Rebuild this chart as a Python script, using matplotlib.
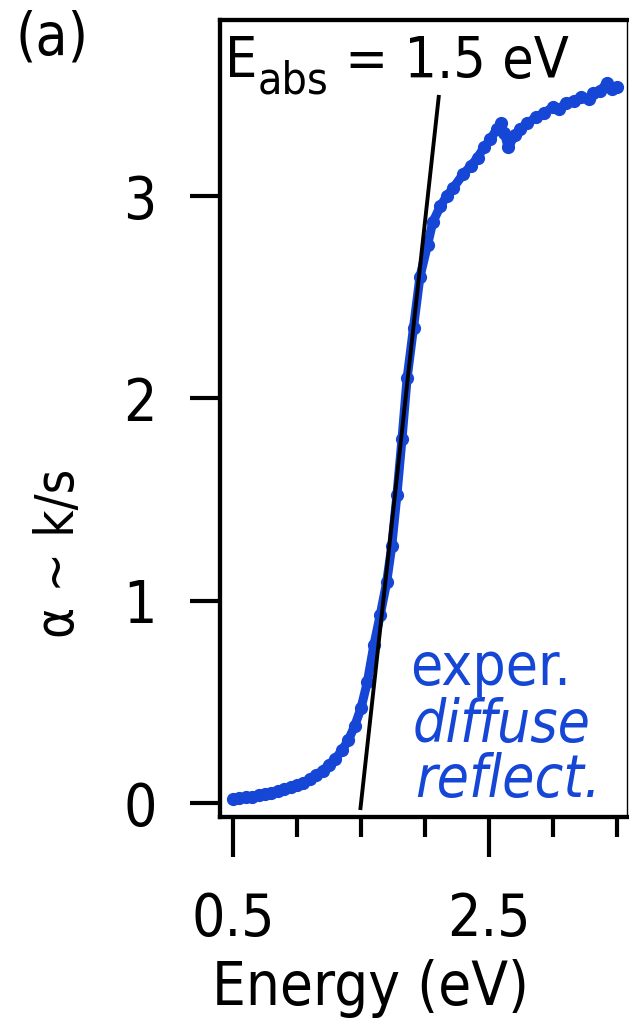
import matplotlib
matplotlib.use("Agg")
import matplotlib.pyplot as plt
from matplotlib.ticker import FixedLocator

plt.rcParams['font.family'] = ['DejaVu Sans']
plt.rcParams['font.stretch'] = 'condensed'

# diffuse reflectance absorption (Kubelka-Munk), alpha ~ k/s
energy = [0.50, 0.55, 0.60, 0.65, 0.70, 0.75, 0.80, 0.85, 0.90, 0.95,
          1.00, 1.05, 1.10, 1.15, 1.20, 1.25, 1.30, 1.35, 1.40, 1.45,
          1.50, 1.55, 1.60, 1.65, 1.70, 1.74, 1.78, 1.82, 1.86, 1.91,
          1.96, 2.02, 2.06, 2.12, 2.17, 2.22, 2.30, 2.36, 2.41, 2.46,
          2.51, 2.56, 2.59, 2.62, 2.65, 2.70, 2.74, 2.80, 2.87, 2.93,
          3.00, 3.05, 3.10, 3.16, 3.22, 3.28, 3.31, 3.37, 3.42, 3.46, 3.50]
alpha = [0.02, 0.025, 0.03, 0.03, 0.04, 0.045, 0.05, 0.06, 0.07, 0.08,
         0.09, 0.10, 0.12, 0.14, 0.16, 0.19, 0.22, 0.26, 0.31, 0.38,
         0.47, 0.60, 0.78, 0.93, 1.09, 1.27, 1.52, 1.80, 2.10, 2.35,
         2.60, 2.76, 2.87, 2.95, 3.00, 3.04, 3.11, 3.15, 3.19, 3.24,
         3.28, 3.33, 3.36, 3.31, 3.24, 3.30, 3.33, 3.36, 3.39, 3.41,
         3.44, 3.43, 3.46, 3.47, 3.49, 3.48, 3.51, 3.52, 3.56, 3.53, 3.54]

# linear extrapolation of the absorption edge
e_abs = 1.5
edge_slope = 5.75
edge_alpha = [-0.025, 3.49]
edge_energy = [e_abs + a / edge_slope for a in edge_alpha]

x_major = [0.5, 2.5]
x_minor = [1.0, 1.5, 2.0, 3.0, 3.5]
y_major = [0, 1, 2, 3]

blue = '#1546d6'

fig = plt.figure(figsize=(6.29, 10.19), dpi=100)
ax = fig.add_axes([220 / 629, 1 - 817 / 1019, 407 / 629, 797 / 1019])

ax.plot(energy, alpha, '-', color=blue, lw=6.5, marker='o', ms=8.5,
        solid_capstyle='round', solid_joinstyle='round', zorder=3)
ax.plot(edge_energy, edge_alpha, color='black', lw=2.8, zorder=4)

ax.set_xlim(0.398, 3.578)
ax.set_ylim(-0.069, 3.87)

ax.xaxis.set_major_locator(FixedLocator(x_major))
ax.xaxis.set_minor_locator(FixedLocator(x_minor))
ax.yaxis.set_major_locator(FixedLocator(y_major))
ax.set_xticklabels(['0.5', '2.5'])
ax.set_yticklabels(['0', '1', '2', '3'])

ax.tick_params(axis='x', which='major', length=29, width=3, pad=24, labelsize=42)
ax.tick_params(axis='x', which='minor', length=14.5, width=3)
ax.tick_params(axis='y', which='major', length=21.5, width=3, pad=24, labelsize=42)

for side in ['left', 'bottom', 'top']:
    ax.spines[side].set_linewidth(3.1)
ax.spines['right'].set_linewidth(1.0)

# absorption edge label
t_e = ax.text(0.437, 3.584, 'E', fontsize=41, va='baseline', ha='left')
t_sub = ax.annotate('abs', xy=(1, 3.584), xycoords=(t_e, 'data'),
                    xytext=(0.5, -11), textcoords='offset points',
                    fontsize=32, va='baseline', ha='left')
ax.annotate(' = 1.5 eV', xy=(1, 3.584), xycoords=(t_sub, 'data'),
            fontsize=41, va='baseline', ha='left')

ax.text(1.883, 0.583, 'exper.', color=blue, fontsize=42, va='baseline')
ax.text(1.906, 0.302, 'diffuse', color=blue, fontsize=42, style='italic', va='baseline')
ax.text(1.922, 0.030, 'reflect.', color=blue, fontsize=42, style='italic', va='baseline')

fig.text(59 / 629, 1 - 553 / 1019, 'α ~ k/s', rotation=90, fontsize=38,
         ha='center', va='center')
fig.text(370 / 629, 1 - 989 / 1019, 'Energy (eV)', fontsize=43,
         ha='center', va='center')
fig.text(15 / 629, 1 - 10 / 1019, '(a)', fontsize=42, ha='left', va='top')

fig.savefig('out.png', dpi=100)
